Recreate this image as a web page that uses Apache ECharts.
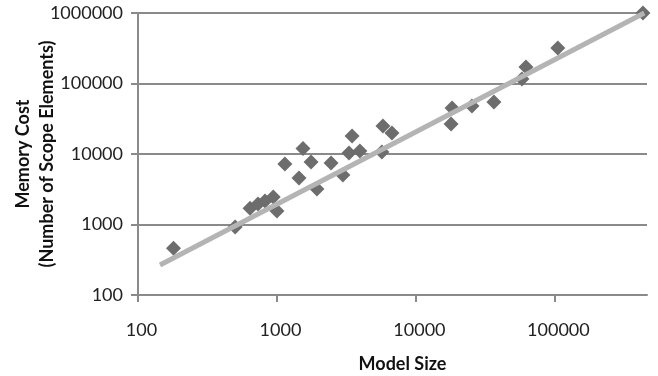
<!DOCTYPE html>
<html>
<head>
<meta charset="utf-8">
<script src="https://cdn.jsdelivr.net/npm/echarts@6/dist/echarts.min.js"></script>
<style>html,body{margin:0;padding:0;background:#fff;}#c{width:658px;height:376px;}</style>
</head>
<body>
<div id="c"></div>
<script>
const modelSize = [180, 500, 640, 730, 820, 940, 1000, 1140, 1540, 1760, 1440, 1940, 2450, 2980, 3470, 3300, 3950, 5790, 6720, 5690, 18200, 17900, 25300, 36400, 57900, 61900, 105000, 430000];
const memoryCost = [460, 920, 1700, 1950, 2150, 2450, 1550, 7200, 12000, 7700, 4570, 3190, 7450, 5040, 18000, 10300, 11000, 25000, 19900, 10700, 44900, 26600, 48000, 54700, 116000, 171000, 319000, 1000000];
const trendX = [144, 440000];
const trendY = [266, 1000000];
const xTicks = [100, 1000, 10000, 100000];
const yTicks = [100, 1000, 10000, 100000, 1000000];

const font = 'Lato, "Open Sans", sans-serif';
const plain = v => String(Math.round(v));
const chart = echarts.init(document.getElementById('c'));
chart.setOption({
  animation: false,
  backgroundColor: '#fff',
  grid: { left: 138, right: 11, top: 13, bottom: 81, containLabel: false, outerBoundsMode: 'none' },
  xAxis: {
    type: 'log', min: 100, max: 460000,
    name: 'Model Size', nameLocation: 'middle', nameGap: 60, nameMoveOverlap: false,
    nameTextStyle: { fontFamily: font, fontWeight: 'bold', fontSize: 18, color: '#111', padding: [0, 0, 0, 20] },
    axisLine: { show: true, lineStyle: { color: '#8a8a8a', width: 2 } },
    axisTick: { show: true, length: 7, customValues: xTicks, lineStyle: { color: '#8a8a8a', width: 2 } },
    axisLabel: { customValues: xTicks, formatter: plain, margin: 26, fontFamily: font, fontSize: 18, color: '#222', padding: [0, 0, 0, 7] },
    splitLine: { show: false }
  },
  yAxis: {
    type: 'log', min: 100, max: 1000000,
    name: 'Memory Cost\n(Number of Scope Elements)', nameLocation: 'middle', nameGap: 79, nameRotate: 90, nameMoveOverlap: false,
    nameTextStyle: { fontFamily: font, fontWeight: 'bold', fontSize: 18, color: '#111', lineHeight: 24 },
    axisLine: { show: true, lineStyle: { color: '#8a8a8a', width: 2 } },
    axisTick: { show: true, length: 7, customValues: yTicks, lineStyle: { color: '#8a8a8a', width: 2 } },
    axisLabel: { customValues: yTicks, formatter: plain, margin: 15, fontFamily: font, fontSize: 18, color: '#222' },
    splitLine: { show: true, lineStyle: { color: '#8a8a8a', width: 2 } }
  },
  series: [
    {
      type: 'scatter', symbol: 'diamond', symbolSize: [15, 15],
      itemStyle: { color: '#6d6d6d', opacity: 1 },
      data: modelSize.map((x, i) => [x, memoryCost[i]]),
      z: 2
    },
    {
      type: 'line', symbol: 'none', silent: true,
      lineStyle: { color: '#b4b4b4', width: 5 },
      data: trendX.map((x, i) => [x, trendY[i]]),
      z: 3
    }
  ]
});
</script>
</body>
</html>
